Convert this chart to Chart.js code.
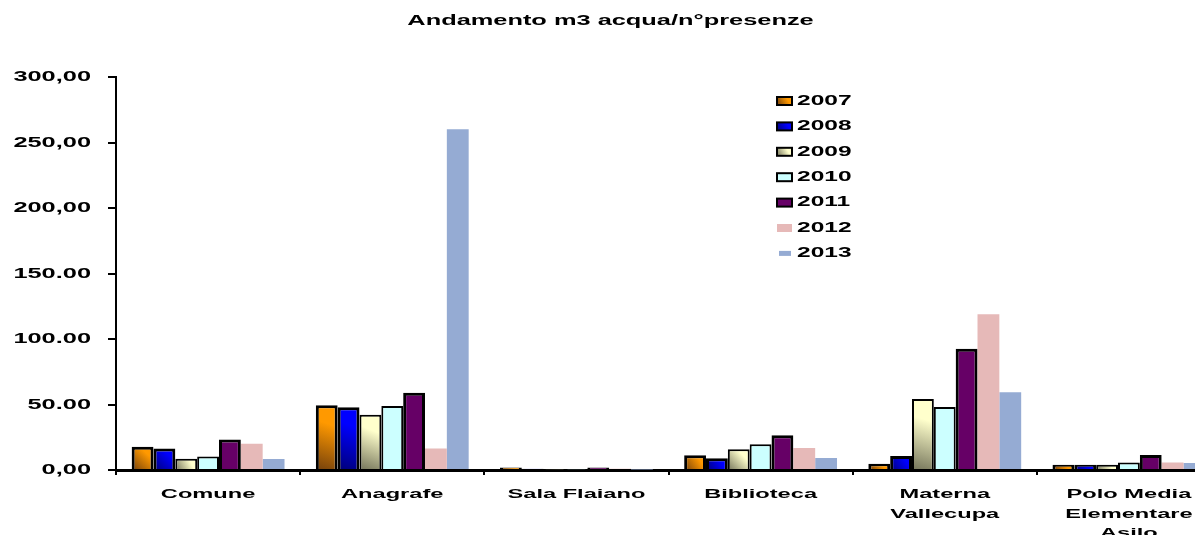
<!DOCTYPE html>
<html>

<head>
    <meta charset="UTF-8">
    <script src="https://cdn.jsdelivr.net/npm/chart.js"></script>
    <style>
        body { margin: 0; overflow: hidden; background: #fff; }
    </style>
</head>

<body>
    <canvas id="waterChart" width="1224" height="535"></canvas>
    <script>
        const categories = ['Comune', 'Anagrafe', 'Sala Flaiano', 'Biblioteca', ['Materna', 'Vallecupa'], ['Polo Media', 'Elementare', 'Asilo']];
        const years = ['2007', '2008', '2009', '2010', '2011', '2012', '2013'];
        const values2007 = [17.8, 49.4, 2.0, 11.2, 4.8, 4.1];
        const values2008 = [16.5, 47.9, 1.0, 8.9, 10.7, 4.1];
        const values2009 = [8.6, 42.2, 0.4, 15.8, 54.2, 4.1];
        const values2010 = [10.4, 48.9, 0.4, 19.6, 48.1, 5.8];
        const values2011 = [23.4, 59.0, 2.0, 26.5, 92.6, 11.5];
        const values2012 = [20.1, 16.5, 1.0, 16.8, 119.1, 5.8];
        const values2013 = [8.4, 260.3, 0.4, 9.2, 59.5, 5.3];
        const yTickLabels = ['0,00', '50.00', '100.00', '150.00', '200,00', '250,00', '300,00'];

        const seriesValues = [values2007, values2008, values2009, values2010, values2011, values2012, values2013];
        const yearColors = ['#ff9900', '#0000ff', '#ffffcc', '#ccffff', '#660066', '#e6b9b8', '#95abd3'];
        const yearShades = ['#74400c', '#000078', '#74745a', null, null, null, null];
        const yearBorders = [3, 3, 2, 2, 3, 0, 0];

        const FONT = '"Liberation Sans", Arial, sans-serif';
        const SX = 1.75; // the original text is stretched wide

        Chart.defaults.font.family = FONT;
        Chart.defaults.color = '#000';

        function makeGradient(c, i, left, bottom, right, top) {
            const g = c.createLinearGradient(left, bottom, right, top);
            g.addColorStop(0, yearShades[i]);
            g.addColorStop(0.7, yearColors[i]);
            g.addColorStop(1, yearColors[i]);
            return g;
        }

        function barFill(i) {
            return ctx => {
                if (!yearShades[i]) return yearColors[i];
                const chart = ctx.chart;
                const xs = chart.scales.x, ys = chart.scales.y;
                if (ctx.type !== 'data' || !xs || !ys) return yearColors[i];
                const groupW = xs.width / categories.length * 0.83;
                const barW = groupW / years.length;
                const left = xs.getPixelForValue(ctx.dataIndex) - groupW / 2 + i * barW;
                const bottom = ys.getPixelForValue(0);
                const top = ys.getPixelForValue(ctx.raw);
                if (![left, bottom, top, barW].every(Number.isFinite)) return yearColors[i];
                return makeGradient(chart.ctx, i, left, bottom, left + barW, top);
            };
        }

        const stretchText = {
            id: 'stretchText',
            beforeInit(chart) {
                const c = chart.ctx;
                const fill = c.fillText.bind(c);
                const measure = c.measureText.bind(c);
                c.fillText = (text, x, y) => {
                    c.save();
                    c.translate(x, y);
                    c.scale(SX, 1);
                    fill(text, 0, 0);
                    c.restore();
                };
                c.measureText = text => ({ width: measure(text).width * SX });
            }
        };

        const yearLegend = {
            id: 'yearLegend',
            afterDraw(chart) {
                const c = chart.ctx;
                c.save();
                c.font = 'bold 14px ' + FONT;
                c.textBaseline = 'middle';
                c.textAlign = 'left';
                chart.data.datasets.forEach((ds, i) => {
                    const y = 101 + i * 25.4;
                    if (i === 6) {
                        c.fillStyle = yearColors[i];
                        c.fillRect(779, y - 2.5, 12, 5);
                    } else {
                        c.fillStyle = yearShades[i] ? makeGradient(c, i, 777, y + 4, 792, y - 4) : yearColors[i];
                        c.fillRect(777, y - 4, 15, 8);
                        if (yearBorders[i]) {
                            c.strokeStyle = '#000';
                            c.lineWidth = 2;
                            c.strokeRect(777, y - 4, 15, 8);
                        }
                    }
                    c.fillStyle = '#000';
                    c.fillText(ds.label, 797, y);
                });
                c.restore();
            }
        };

        const datasets = years.map((year, i) => ({
            label: year,
            data: seriesValues[i],
            backgroundColor: barFill(i),
            borderColor: '#000',
            borderWidth: yearBorders[i],
            inflateAmount: 0,
            categoryPercentage: 0.83,
            barPercentage: 1.0
        }));

        new Chart(document.getElementById('waterChart'), {
            type: 'bar',
            data: { labels: categories, datasets: datasets },
            plugins: [stretchText, yearLegend],
            options: {
                responsive: false,
                animation: false,
                devicePixelRatio: 1,
                layout: { padding: { left: 0, right: 3, top: 0, bottom: 0 } },
                plugins: {
                    legend: { display: false },
                    tooltip: { enabled: false },
                    title: {
                        display: true,
                        text: 'Andamento m3 acqua/n°presenze',
                        color: '#000',
                        font: { size: 14.5, weight: 'bold' },
                        padding: { top: 12, bottom: 48 }
                    }
                },
                scales: {
                    x: {
                        grid: { drawOnChartArea: false, offset: true, color: '#000', lineWidth: 2, tickLength: 5 },
                        border: { color: '#000', width: 3 },
                        ticks: { color: '#000', font: { size: 13.5, weight: 'bold', lineHeight: 1.43 }, padding: 10, maxRotation: 0, autoSkip: false },
                        afterFit: s => { s.height = 65; }
                    },
                    y: {
                        min: 0,
                        max: 300,
                        grid: { drawOnChartArea: false, color: '#000', lineWidth: 2, tickLength: 8 },
                        border: { color: '#000', width: 2 },
                        ticks: {
                            stepSize: 50,
                            color: '#000',
                            padding: 17,
                            font: { size: 14.5, weight: 'bold' },
                            callback: (value, index) => yTickLabels[index]
                        },
                        afterFit: s => { s.width = 116; }
                    }
                }
            }
        });
    </script>
</body>

</html>
